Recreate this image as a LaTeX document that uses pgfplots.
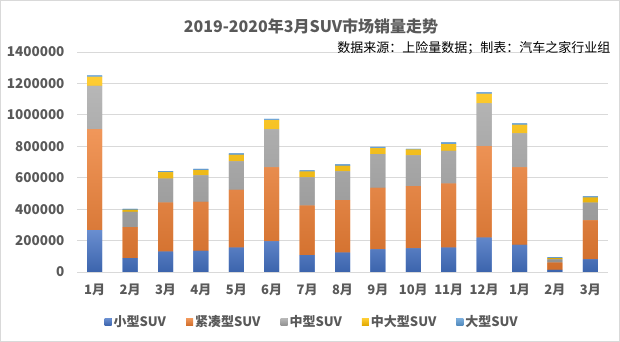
\documentclass[border=0pt]{standalone}
\usepackage{pgfplots}
\pgfplotsset{compat=1.18}
\usepackage{fontspec}
\setmainfont{Noto Sans CJK SC}
\definecolor{cSmall}{HTML}{4472C4}
\definecolor{cCompact}{HTML}{ED7D31}
\definecolor{cMid}{HTML}{A5A5A5}
\definecolor{cMidLarge}{HTML}{FFC000}
\definecolor{cLarge}{HTML}{5B9BD5}
\definecolor{txt}{HTML}{595959}
\definecolor{gridc}{HTML}{D9D9D9}
\tikzset{grad/.style={top color=#1!80!white, middle color=#1, bottom color=#1!88!black, draw=none}}
\begin{document}
\begin{tikzpicture}
\path (0,0) rectangle (620pt,342pt);
\draw[color=gridc, line width=1pt] (0.5pt,0.5pt) rectangle (619.5pt,341.5pt);
\begin{axis}[
  at={(77pt,70pt)}, anchor=south west,
  scale only axis, width=531pt, height=220pt,
  ybar stacked, bar width=15pt,
  xmin=-0.5, xmax=14.5, ymin=0, ymax=1400000,
  xtick={0,...,14},
  xticklabels={1月,2月,3月,4月,5月,6月,7月,8月,9月,10月,11月,12月,1月,2月,3月},
  ytick={0,200000,400000,600000,800000,1000000,1200000,1400000},
  scaled y ticks=false,
  /pgf/number format/assume math mode=true,
  yticklabel style={/pgf/number format/fixed, /pgf/number format/1000 sep={}, font=\fontsize{13.5}{16}\selectfont\bfseries, text=txt, xshift=-9pt},
  xticklabel style={font=\fontsize{13}{15}\selectfont\bfseries, text=txt, yshift=-8pt},
  major tick length=0pt,
  axis line style={draw=none},
  ymajorgrids, grid style={color=gridc, line width=0.8pt},
  legend columns=5,
  legend style={at={(0.443,-0.227)}, anchor=center, draw=none, fill=none,
    font=\fontsize{13}{15}\selectfont\bfseries, text=txt,
    /tikz/every even column/.append style={column sep=18pt}},
  legend image code/.code={\fill[#1] (0pt,-3.5pt) rectangle (7pt,3.5pt);},
]
\addplot[grad=cSmall, fill=cSmall] coordinates {(0,267000) (1,89000) (2,129000) (3,134000) (4,155000) (5,195000) (6,108000) (7,123000) (8,144000) (9,151000) (10,155000) (11,218000) (12,172000) (13,13000) (14,81000)};
\addplot[grad=cCompact, fill=cCompact] coordinates {(0,640000) (1,197000) (2,312000) (3,313000) (4,367000) (5,471000) (6,314000) (7,335000) (8,392000) (9,396000) (10,407000) (11,583000) (12,494000) (13,46000) (14,248000)};
\addplot[grad=cMid, fill=cMid] coordinates {(0,278000) (1,96000) (2,153000) (3,168000) (4,182000) (5,241000) (6,180000) (7,182000) (8,214000) (9,195000) (10,208000) (11,272000) (12,216000) (13,22000) (14,112000)};
\addplot[grad=cMidLarge, fill=cMidLarge] coordinates {(0,57000) (1,14000) (2,40000) (3,34000) (4,42000) (5,60000) (6,36000) (7,36000) (8,39000) (9,36000) (10,44000) (11,61000) (12,55000) (13,8000) (14,32000)};
\addplot[grad=cLarge, fill=cLarge] coordinates {(0,9000) (1,5000) (2,8000) (3,8000) (4,9000) (5,8000) (6,9000) (7,9000) (8,8000) (9,6000) (10,11000) (11,11000) (12,9000) (13,4000) (14,8000)};
\legend{小型SUV,紧凑型SUV,中型SUV,中大型SUV,大型SUV}
\end{axis}
\node[font=\fontsize{16}{19}\selectfont\bfseries, text=txt] at (311pt,316pt) {2019-2020年3月SUV市场销量走势};
\node[font=\fontsize{13}{15}\selectfont, anchor=east, text=black] at (614pt,294pt) {数据来源：上险量数据；制表：汽车之家行业组};
\end{tikzpicture}
\end{document}
